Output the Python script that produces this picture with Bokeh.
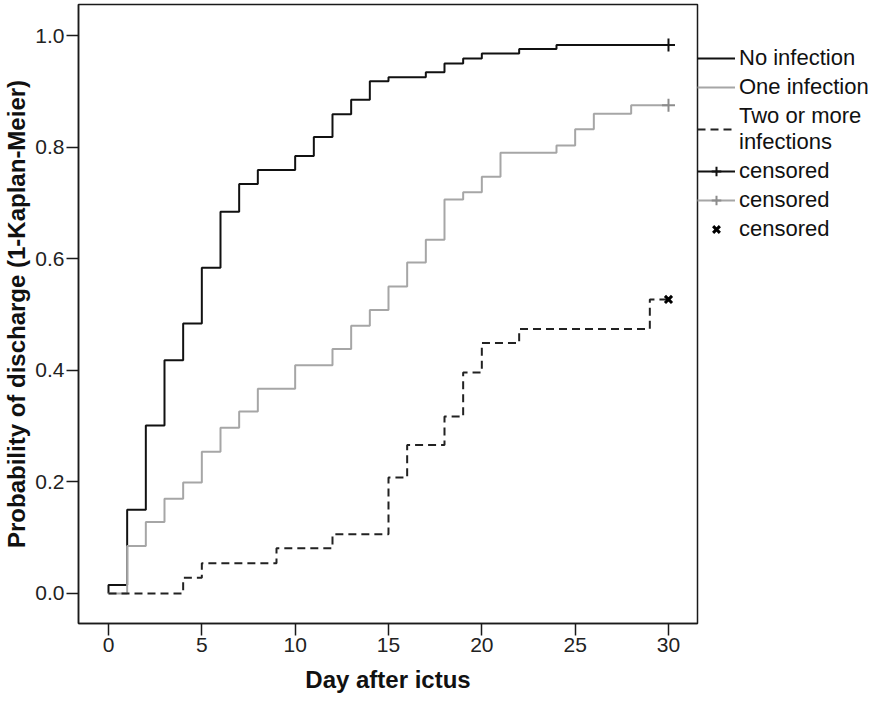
from bokeh.plotting import figure
from bokeh.models import Legend, LegendItem, FixedTicker, Range1d, NumeralTickFormatter
from bokeh.embed import file_html
from bokeh.resources import INLINE

# ---- data ----
days_no = [0, 0, 1, 2, 3, 4, 5, 6, 7, 8, 10, 11, 12, 13, 14, 15, 17, 18, 19, 20, 22, 24, 30]
prob_no = [0.0, 0.015, 0.150, 0.301, 0.418, 0.484, 0.584, 0.684, 0.734, 0.759, 0.784, 0.818,
           0.859, 0.885, 0.918, 0.925, 0.934, 0.950, 0.959, 0.968, 0.976, 0.983, 0.983]

days_one = [0, 1, 2, 3, 4, 5, 6, 7, 8, 10, 12, 13, 14, 15, 16, 17, 18, 19, 20, 21, 24, 25, 26, 28, 30]
prob_one = [0.0, 0.085, 0.128, 0.170, 0.199, 0.254, 0.297, 0.326, 0.367, 0.409, 0.438, 0.480,
            0.508, 0.550, 0.593, 0.634, 0.706, 0.719, 0.747, 0.790, 0.803, 0.832, 0.860, 0.875, 0.875]

days_two = [0, 4, 5, 9, 12, 15, 16, 18, 19, 20, 22, 29, 30]
prob_two = [0.0, 0.028, 0.054, 0.081, 0.106, 0.208, 0.266, 0.317, 0.396, 0.449, 0.474, 0.527, 0.527]

cens_day_no, cens_prob_no = [30], [0.983]
cens_day_one, cens_prob_one = [30], [0.875]
cens_day_two, cens_prob_two = [30], [0.527]

x_ticks = [0, 5, 10, 15, 20, 25, 30]
y_ticks = [0.0, 0.2, 0.4, 0.6, 0.8, 1.0]

series_labels = ["No infection", "One infection", "Two or more\ninfections"]
censor_label = "censored"
x_title = "Day after ictus"
y_title = "Probability of discharge (1-Kaplan-Meier)"

FONT = "Liberation Sans"

p = figure(frame_width=619, frame_height=619,
           x_range=Range1d(-1.607, 31.554), y_range=Range1d(-0.0538, 1.0556),
           output_backend="svg", toolbar_location=None,
           min_border_left=73, min_border_right=150, min_border_top=4, min_border_bottom=76)

p.background_fill_color = "white"
p.border_fill_color = "white"
p.outline_line_color = "#1a1a1a"
p.outline_line_width = 1.5
p.xgrid.visible = False
p.ygrid.visible = False

for ax in (p.xaxis[0], p.yaxis[0]):
    ax.axis_line_color = "#1a1a1a"
    ax.axis_line_width = 1.5
    ax.major_tick_line_color = "#1a1a1a"
    ax.major_tick_line_width = 1.5
    ax.major_tick_out = 12
    ax.major_tick_in = 0
    ax.minor_tick_line_color = None
    ax.major_label_text_font = FONT
    ax.major_label_text_font_size = "21px"
    ax.major_label_text_color = "#222222"
    ax.major_label_standoff = 2
    ax.axis_label_text_font = FONT
    ax.axis_label_text_font_style = "bold"
    ax.axis_label_text_font_size = "24px"
    ax.axis_label_text_color = "#111111"

p.xaxis[0].ticker = FixedTicker(ticks=x_ticks)
p.yaxis[0].ticker = FixedTicker(ticks=y_ticks)
p.yaxis[0].formatter = NumeralTickFormatter(format="0.0")
p.xaxis[0].axis_label = x_title
p.yaxis[0].axis_label = y_title
p.xaxis[0].axis_label_standoff = 11
p.yaxis[0].axis_label_standoff = 2

r_no = p.step(days_no, prob_no, mode="after", line_color="#111111", line_width=2)
r_one = p.step(days_one, prob_one, mode="after", line_color="#a6a6a6", line_width=2)
r_two = p.step(days_two, prob_two, mode="after", line_color="#222222", line_width=2,
               line_dash="8 5")

c_no = p.scatter(cens_day_no, cens_prob_no, marker="cross", size=13,
                 line_color="#111111", line_width=2)
c_one = p.scatter(cens_day_one, cens_prob_one, marker="cross", size=13,
                  line_color="#8c8c8c", line_width=2)
c_two = p.scatter(cens_day_two, cens_prob_two, marker="x", size=10,
                  line_color="#000000", line_width=3)

legend = Legend(items=[
    LegendItem(label=series_labels[0], renderers=[r_no]),
    LegendItem(label=series_labels[1], renderers=[r_one]),
    LegendItem(label=series_labels[2], renderers=[r_two]),
    LegendItem(label=censor_label, renderers=[r_no, c_no]),
    LegendItem(label=censor_label, renderers=[r_one, c_one]),
    LegendItem(label=censor_label, renderers=[c_two]),
], location=(0, 381))
legend.margin = 0
legend.padding = 0
legend.spacing = 3
legend.glyph_width = 38
legend.glyph_height = 24
legend.label_height = 24
legend.label_standoff = 4
legend.label_text_font = FONT
legend.label_text_font_size = "22px"
legend.label_text_color = "#111111"
legend.label_text_line_height = 0.9
legend.background_fill_alpha = 0
legend.border_line_alpha = 0
p.add_layout(legend, "right")

open("out.html", "w").write(file_html(p, INLINE))
